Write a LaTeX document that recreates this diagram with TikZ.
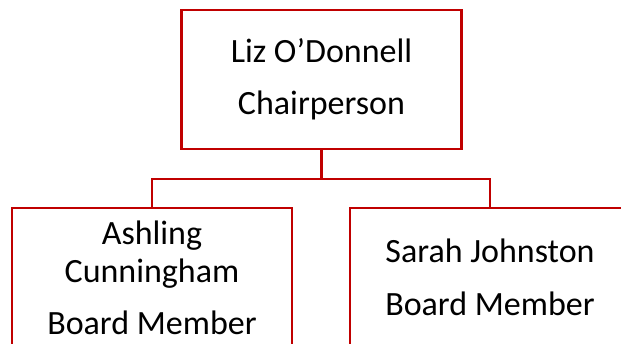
\documentclass[tikz,border=0pt]{standalone}
\usepackage{fontspec}
\setmainfont{Carlito}
\usepackage{xcolor}
\usepackage{tikz}
\definecolor{boxred}{HTML}{C00000}

\begin{document}
\begin{tikzpicture}[x=1pt,y=1pt,
		orgbox/.style={draw=boxred, line width=2.5pt, minimum width=280pt, minimum height=139pt,
			inner sep=0pt, align=center, font=\fontsize{34}{38}\selectfont},
		link/.style={draw=boxred, line width=2.5pt}]
			% The page
			\clip (0,0) rectangle (621,-344);

			% The boxes
			\node[orgbox] (chair) at (321.5,-79.5) {Liz O’Donnell\\[14pt]Chairperson};
			\node[orgbox] (ashling) at (152,-277.5) {Ashling\\Cunningham\\[14pt]Board Member};
			\node[orgbox] (sarah) at (490,-277.5) {Sarah Johnston\\[15pt]Board Member};

			% The links
			\draw[link] (chair.south) -- ++(0,-29) coordinate (split);
			\draw[link] (split) -| (ashling.north);
			\draw[link] (split) -| (sarah.north);
		\end{tikzpicture}
\end{document}
